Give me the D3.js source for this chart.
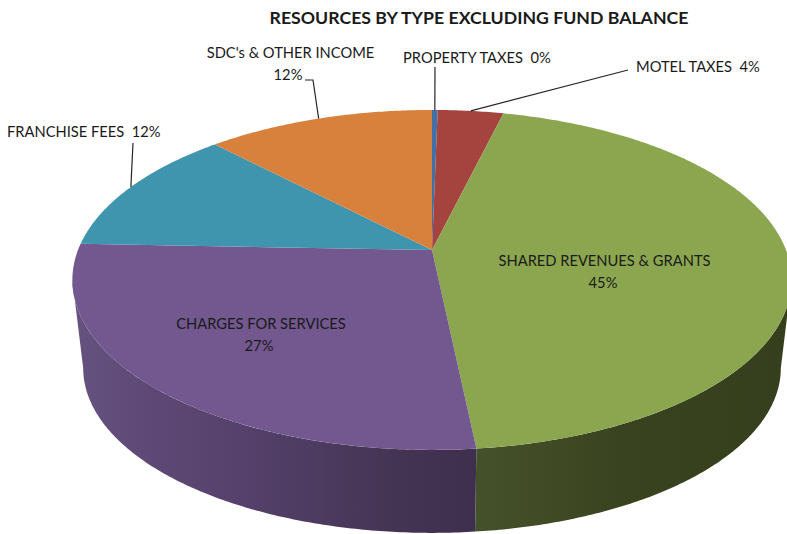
<!DOCTYPE html>
<html>
<head>
<meta charset="utf-8">
<script src="https://cdn.jsdelivr.net/npm/d3@7/dist/d3.min.js"></script>
<style>
html,body{margin:0;padding:0;background:#fff;overflow:hidden}
svg{display:block}
text{font-family:Lato,"Open Sans",sans-serif;fill:#1a1a1a;white-space:pre}
</style>
</head>
<body>
<svg id="chart" width="787" height="534"></svg>
<script>
const categories = ["PROPERTY TAXES","MOTEL TAXES","SHARED REVENUES & GRANTS","CHARGES FOR SERVICES","FRANCHISE FEES","SDC's & OTHER INCOME"];
const values = [0.3,3.5,44.55,27.25,12.25,12.15];
const percentLabels = ["0%","4%","45%","27%","12%","12%"];
const faceColors = ["#3f70a8","#a5443f","#8ca650","#72588e","#4095ae","#d7813c"];
const title = "RESOURCES BY TYPE EXCLUDING FUND BALANCE";

const W = 787, H = 534;
const svg = d3.select("#chart");
const defs = svg.append("defs");

// perspective projection of the unit disc onto the page
const cx = 432, cy = 250, k = 0.176, ra = 164.7, rb = 354;
const project = (a, scale = 1, dy = 0) => {
  const u = Math.sin(a), v = -Math.cos(a), d = 1 - k * v;
  return [cx + scale * rb * u / d, cy + dy + scale * ra * v / d];
};
const arcPts = (a0, a1, scale, dy) => {
  const n = Math.max(2, Math.ceil((a1 - a0) / 0.01));
  return d3.range(n + 1).map(i => project(a0 + (a1 - a0) * i / n, scale, dy));
};
const line = d3.line();
const pie = d3.pie().sort(null).startAngle(0).endAngle(2 * Math.PI);
const slices = pie(values);

const grad = (id, stops) => {
  const g = defs.append("linearGradient").attr("id", id)
    .attr("gradientUnits", "userSpaceOnUse")
    .attr("x1", 0).attr("x2", W).attr("y1", 0).attr("y2", 0);
  stops.forEach(([o, c]) => g.append("stop").attr("offset", o / W).attr("stop-color", c));
};
grad("wallGreen", [[478,"#45512a"],[560,"#3f4a25"],[620,"#39431f"],[787,"#353f1d"]]);
grad("wallPurple", [[75,"#66527e"],[150,"#5e4976"],[250,"#54406a"],[400,"#443453"],[478,"#3e2f4f"]]);

const root = svg.append("g");

// side walls: only the part between the two silhouette tangents shows
const bottomScale = 0.97, bottomDy = 89;
const tangent = Math.acos(-k);
[[2,"url(#wallGreen)"],[3,"url(#wallPurple)"]].forEach(([i, fill]) => {
  const s = slices[i];
  const a0 = Math.max(s.startAngle, tangent), a1 = Math.min(s.endAngle, 2 * Math.PI - tangent);
  const top = arcPts(a0, a1, 1, 0);
  const bot = arcPts(a0, a1, bottomScale, bottomDy).reverse();
  root.append("path").attr("d", line(top.concat(bot)) + "Z").attr("fill", fill);
});

// top faces
root.selectAll("path.face").data(slices).enter().append("path")
  .attr("class", "face")
  .attr("fill", (d, i) => faceColors[i])
  .attr("d", d => line([[cx, cy]].concat(arcPts(d.startAngle, d.endAngle, 1, 0))) + "Z");

// leader lines
const mid = d => (d.startAngle + d.endAngle) / 2;
const leaders = [
  [0, [[435, 67]]],
  [1, [[628, 70]]],
  [4, [[133, 143]]],
  [5, [[313, 80], [305, 80]]]
];
leaders.forEach(([i, pts]) => {
  root.append("path")
    .attr("d", line([project(mid(slices[i]))].concat(pts)))
    .attr("fill", "none").attr("stroke", "#262626").attr("stroke-width", 1.2);
});

// text
const t = (x, y, s, size, anchor, weight) => root.append("text")
  .attr("x", x).attr("y", y).attr("font-size", size)
  .attr("text-anchor", anchor).attr("font-weight", weight || 400).text(s);
const fs = 14.7;
t(479, 24, title, 17.7, "middle", 700);
t(403, 63, `${categories[0]}  ${percentLabels[0]}`, fs, "start");
t(636, 72, `${categories[1]}  ${percentLabels[1]}`, fs, "start");
t(604.5, 266, categories[2], fs, "middle");
t(603, 288, percentLabels[2], fs, "middle");
t(261, 329, categories[3], fs, "middle");
t(259, 351, percentLabels[3], fs, "middle");
t(7, 137, `${categories[4]}  ${percentLabels[4]}`, fs, "start");
t(290.5, 58, categories[5], fs, "middle");
t(288, 80, percentLabels[5], fs, "middle");
</script>
</body>
</html>
